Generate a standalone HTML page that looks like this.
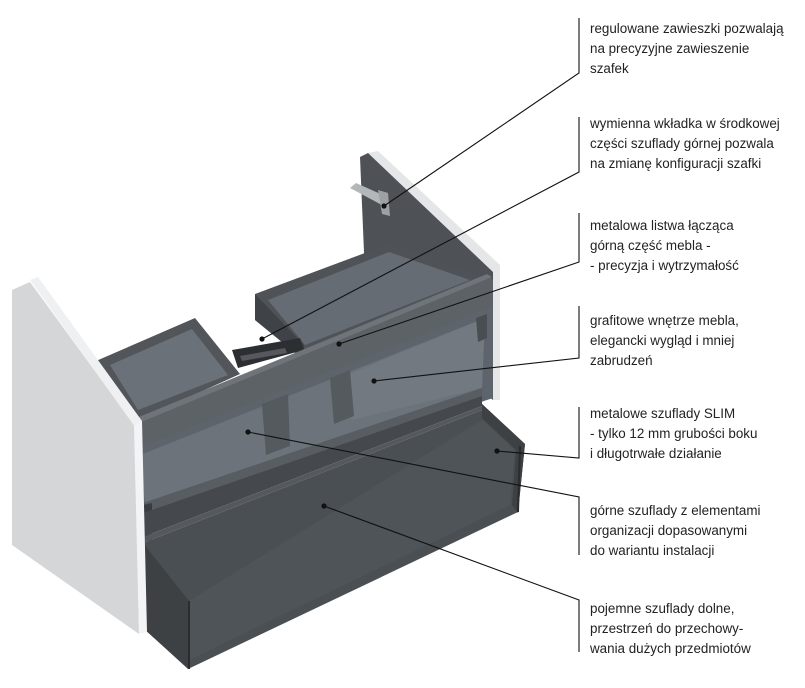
<!DOCTYPE html>
<html><head><meta charset="utf-8"><style>
html,body{margin:0;padding:0;background:#fff;}
svg{display:block}
text{font-family:"Liberation Sans",sans-serif;font-size:13.4px;fill:#222;}
</style></head><body>
<svg width="805" height="688" viewBox="0 0 805 688" xmlns="http://www.w3.org/2000/svg">
<!-- right side light strip -->
<polygon points="368,153 378,151 500,265 500,400 493,400 493,272" fill="#e4e6e8"/>
<!-- back panel dark -->
<polygon points="360,157 368,153 493,272 493,400 366,300" fill="#4e5256"/>
<!-- hanger -->
<polygon points="350,188 356,183 385,196 386,204 380,204" fill="#b4b7ba"/>
<polygon points="378,190 388,193 390,216 382,214" fill="#9da1a4"/>
<!-- right top box -->
<polygon points="255,294 389,244 482,276 482,290 304,360 255,320" fill="#4f5358"/>
<polygon points="268,300 389,252 470,280 305,345" fill="#666c73"/>
<polygon points="255,294 304,345 304,360 255,320" fill="#3f4347"/>
<!-- middle slot -->
<polygon points="232,350 300,338 304,350 238,368" fill="#2c2f32"/>
<polygon points="240,356 285,348 287,353 242,361" fill="#55595d"/>
<!-- left top box -->
<polygon points="96,361 195,318 240,374 134,422" fill="#52565b"/>
<polygon points="110,365 192,329 228,375 138,410" fill="#6a7178"/>
<!-- upper drawer area -->
<polygon points="134,445 493,305 493,398 143,515" fill="#5e646b"/>
<polygon points="140,455 485,318 482,388 145,503" fill="#6c737b"/>
<polygon points="335,380 485,318 482,388 352,420" fill="#727981"/>
<!-- dividers -->
<polygon points="262,404 288,394 290,446 266,455" fill="#555a5f"/>
<polygon points="330,378 350,370 354,416 334,424" fill="#555a5f"/>
<polygon points="476,318 487,314 487,338 478,342" fill="#4a4e52"/>
<!-- upper drawer front lip -->
<polygon points="143,503 482,388 482,396 143,513" fill="#585d62"/>
<polygon points="143,505 152,503 152,540 143,542" fill="#3a3d40"/>
<!-- beam -->
<polygon points="134,422 489,277 493,280 493,306 134,450" fill="#5d6267"/>
<polygon points="134,419 487,274 492,277 134,425" fill="#6e747a"/>
<!-- rail -->
<polygon points="143,513 482,396 482,406 143,537" fill="#45494d"/>
<polygon points="143,537 482,406 482,410 143,543" fill="#55595e"/>
<!-- lower drawer back wall -->
<polygon points="143,543 482,410 482,404 525,444 518,512 188,669 143,628" fill="#4a4f53"/>
<polygon points="189,601 482,420 515,450 510,505 189,660" fill="#4f5459"/>
<!-- lower drawer side walls -->
<polygon points="143,543 189,601 189,669 143,628" fill="#3d4144"/>
<polygon points="482,404 525,444 518,513 512,505 516,450 482,418" fill="#3d4144"/>
<line x1="189" y1="601" x2="189" y2="669" stroke="#2a2c2e" stroke-width="2"/>
<line x1="520" y1="446" x2="518" y2="512" stroke="#2a2c2e" stroke-width="2"/>
<!-- left side panel -->
<polygon points="12,290 30,282 135,426 139,634 12,545" fill="#d5d6d7"/>
<polygon points="30,280 38,277 142,421 135,427" fill="#eef0f2"/>
<polygon points="134,426 142,421 147,632 139,634" fill="#f2f4f6"/>
<!-- callout lines -->
<g stroke="#111" stroke-width="1.1" fill="none">
<polyline points="579,18 579,73 384,206"/>
<polyline points="579,117 579,172 262,339"/>
<polyline points="579,213 579,262 339,344"/>
<polyline points="579,306 579,358 374,381"/>
<polyline points="579,407 579,458 497,451"/>
<polyline points="579,555 579,497 248,432"/>
<polyline points="579,652 579,600 324,506"/>
</g>
<g fill="#111">
<circle cx="384" cy="206" r="2.6"/><circle cx="262" cy="339" r="2.6"/>
<circle cx="339" cy="344" r="2.6"/><circle cx="374" cy="381" r="2.6"/>
<circle cx="497" cy="451" r="2.6"/><circle cx="248" cy="432" r="2.6"/>
<circle cx="324" cy="506" r="2.6"/>
</g>
<g>
<text x="590" y="33">regulowane zawieszki pozwalają</text>
<text x="590" y="53">na precyzyjne zawieszenie</text>
<text x="590" y="73">szafek</text>
<text x="590" y="128">wymienna wkładka w środkowej</text>
<text x="590" y="148">części szuflady górnej pozwala</text>
<text x="590" y="168">na zmianę konfiguracji szafki</text>
<text x="590" y="230">metalowa listwa łącząca</text>
<text x="590" y="250">górną część mebla -</text>
<text x="590" y="270">- precyzja i wytrzymałość</text>
<text x="590" y="325">grafitowe wnętrze mebla,</text>
<text x="590" y="345">elegancki wygląd i mniej</text>
<text x="590" y="365">zabrudzeń</text>
<text x="590" y="418">metalowe szuflady SLIM</text>
<text x="590" y="438">- tylko 12 mm grubości boku</text>
<text x="590" y="458">i długotrwałe działanie</text>
<text x="590" y="515">górne szuflady z elementami</text>
<text x="590" y="535">organizacji dopasowanymi</text>
<text x="590" y="555">do wariantu instalacji</text>
<text x="590" y="613">pojemne szuflady dolne,</text>
<text x="590" y="633">przestrzeń do przechowy-</text>
<text x="590" y="653">wania dużych przedmiotów</text>
</g>
</svg>
</body></html>
